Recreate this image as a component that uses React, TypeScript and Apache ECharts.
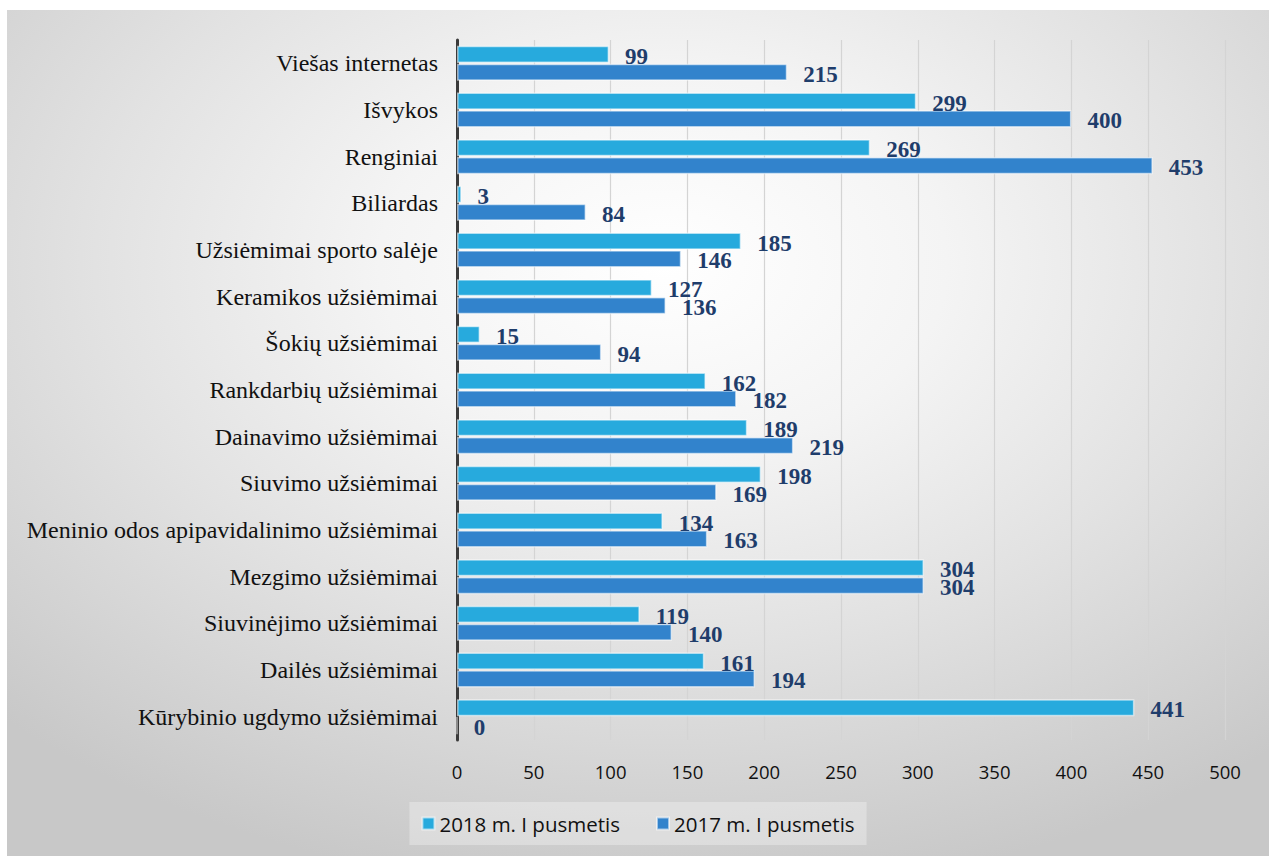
import React, { useEffect, useRef } from "react";
import * as echarts from "echarts";

const categories = [
  "Viešas internetas",
  "Išvykos",
  "Renginiai",
  "Biliardas",
  "Užsiėmimai sporto salėje",
  "Keramikos užsiėmimai",
  "Šokių užsiėmimai",
  "Rankdarbių užsiėmimai",
  "Dainavimo užsiėmimai",
  "Siuvimo užsiėmimai",
  "Meninio odos apipavidalinimo užsiėmimai",
  "Mezgimo užsiėmimai",
  "Siuvinėjimo užsiėmimai",
  "Dailės užsiėmimai",
  "Kūrybinio ugdymo užsiėmimai",
];
const values2018 = [99, 299, 269, 3, 185, 127, 15, 162, 189, 198, 134, 304, 119, 161, 441];
const values2017 = [215, 400, 453, 84, 146, 136, 94, 182, 219, 169, 163, 304, 140, 194, 0];
const seriesNames = ["2018 m. I pusmetis", "2017 m. I pusmetis"];
const xTicks = { min: 0, max: 500, interval: 50 };

export default function App() {
  const ref = useRef<HTMLDivElement>(null);
  useEffect(() => {
    if (!ref.current) return;
    const chart = echarts.init(ref.current, undefined, { renderer: "svg" });
    const labelStyle = {
      show: true,
      position: "right" as const,
      distance: 16,
      fontFamily: "Liberation Serif",
      fontWeight: "bold" as const,
      fontSize: 23,
      color: "#1F3D6B",
      offset: [0, 2],
    };
    chart.setOption({
      animation: false,
      grid: { left: 450, right: 44, top: 30, bottom: 116, containLabel: false },
      legend: {
        data: seriesNames,
        bottom: 11,
        left: "center",
        itemWidth: 12,
        itemHeight: 12,
        itemGap: 36,
        padding: [11, 12, 11, 12],
        backgroundColor: "rgba(255,255,255,0.3)",
        icon: "rect",
        textStyle: { fontFamily: "Open Sans", fontSize: 20.5, color: "#111" },
      },
      xAxis: {
        type: "value",
        min: xTicks.min,
        max: xTicks.max,
        interval: xTicks.interval,
        axisLine: { show: false },
        axisTick: { show: false },
        splitLine: { show: true, lineStyle: { color: "#D4D4D4", width: 1.2 } },
        axisLabel: { margin: 22, fontFamily: "Open Sans", fontSize: 18.5, color: "#111" },
      },
      yAxis: {
        type: "category",
        data: categories,
        inverse: true,
        axisLine: { show: true, lineStyle: { color: "#3A3A3A", width: 3 } },
        axisTick: { show: false },
        axisLabel: { margin: 19, fontFamily: "Liberation Serif", fontSize: 24, color: "#111" },
      },
      series: [
        {
          name: seriesNames[0],
          type: "bar",
          data: values2018,
          barGap: "4%",
          barCategoryGap: "25%",
          itemStyle: { color: "#27AADD", borderColor: "rgba(255,255,255,0.55)", borderWidth: 1.5 },
          label: labelStyle,
        },
        {
          name: seriesNames[1],
          type: "bar",
          data: values2017,
          barGap: "4%",
          barCategoryGap: "25%",
          itemStyle: { color: "#3283CC", borderColor: "rgba(255,255,255,0.55)", borderWidth: 1.5 },
          label: labelStyle,
        },
      ],
    });
    return () => chart.dispose();
  }, []);
  return (
    <div
      ref={ref}
      style={{
        position: "absolute",
        left: 7,
        top: 10,
        width: 1262,
        height: 846,
        background:
          "radial-gradient(ellipse 75% 75% at 52% 30%, #ffffff 0%, #f4f4f4 30%, #e2e2e2 60%, #c8c8c8 100%)",
      }}
    />
  );
}
